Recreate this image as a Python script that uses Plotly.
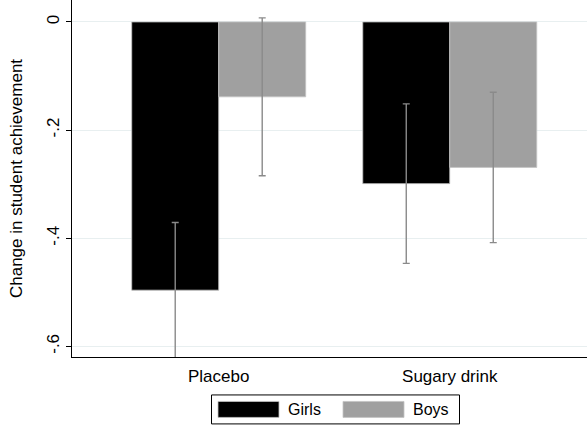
import plotly.graph_objects as go

# Group means and 95% CI half-widths
categories = ["Placebo", "Sugary drink"]
series_names = ["Girls", "Boys"]
girls_mean = [-0.496, -0.299]
girls_ci = [0.125, 0.1475]
boys_mean = [-0.1385, -0.269]
boys_ci = [0.146, 0.139]
y_tick_vals = [0, -0.2, -0.4, -0.6]
y_tick_text = ["0", "-.2", "-.4", "-.6"]

W, H = 587, 426
L, R, T, B = 72, 0, 0, 68.5
FONT = "Liberation Sans, Arial, Helvetica, sans-serif"
colors = ["#000000", "#a0a0a0"]

fig = go.Figure()
for name, mean, ci, col in zip(series_names, [girls_mean, boys_mean],
                               [girls_ci, boys_ci], colors):
    fig.add_trace(go.Bar(
        x=categories, y=mean, name=name,
        marker=dict(color=col, line=dict(color="#c4c4c4", width=0.8)),
        error_y=dict(type="data", array=ci, visible=True,
                     color="#8a8a8a", thickness=1.4, width=3.5),
        showlegend=False,
    ))

# pixel -> paper helpers
pw, ph = W - L - R, H - T - B
def px(x):
    return (x - L) / pw
def py(y):
    return (H - B - y) / ph

# Legend drawn as a framed box with wide swatches
shapes = [dict(type="rect", xref="paper", yref="paper",
               x0=px(211.5), x1=px(459.5), y0=py(395.5), y1=py(424.5),
               line=dict(color="black", width=1), fillcolor="white")]
annotations = []
sw_x = [218, 343]
for i, (name, col) in enumerate(zip(series_names, colors)):
    shapes.append(dict(type="rect", xref="paper", yref="paper",
                       x0=px(sw_x[i]), x1=px(sw_x[i] + 61),
                       y0=py(402), y1=py(418),
                       line=dict(color="#c4c4c4", width=0.8), fillcolor=col))
    annotations.append(dict(xref="paper", yref="paper", x=px(sw_x[i] + 68),
                            y=py(410), text=name, showarrow=False,
                            xanchor="left", yanchor="middle",
                            font=dict(size=16, color="black", family=FONT)))

fig.update_layout(
    width=W, height=H,
    margin=dict(l=L, r=R, t=T, b=B, pad=0),
    paper_bgcolor="white", plot_bgcolor="white",
    barmode="group", bargap=0.247, bargroupgap=0,
    font=dict(family=FONT, size=17, color="black"),
    shapes=shapes, annotations=annotations,
    xaxis=dict(range=[-0.635, 1.594], showline=True, linecolor="black",
               linewidth=1.2, ticks="", showgrid=False,
               ticklabelstandoff=3, tickfont=dict(size=17)),
    yaxis=dict(range=[-0.6196, 0.0406], tickvals=y_tick_vals,
               ticktext=y_tick_text, tickangle=-90, ticks="outside",
               ticklen=5, tickcolor="black", showline=True,
               linecolor="black", linewidth=1.2, showgrid=True,
               gridcolor="#e8eff0", gridwidth=1, zeroline=False,
               tickfont=dict(size=17),
               title=dict(text="Change in student achievement",
                          font=dict(size=17), standoff=17)),
)

fig.write_html("out.html")
